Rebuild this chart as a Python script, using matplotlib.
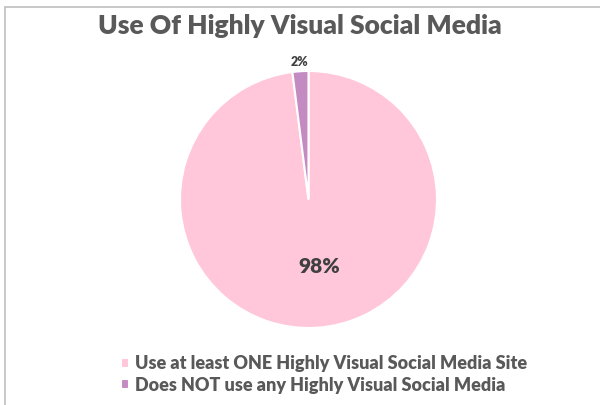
import numpy as np
import matplotlib.pyplot as plt
from matplotlib.patches import Rectangle

# Survey share of highly visual social media use
labels = ["Use at least ONE Highly Visual Social Media Site",
          "Does NOT use any Highly Visual Social Media"]
shares = [98, 2]
colors = ["#FFC7D9", "#C48BC3"]

plt.rcParams["font.family"] = ["Lato", "DejaVu Sans"]

fig = plt.figure(figsize=(6, 4.05), dpi=100)

# chart frame
fig.patches.append(Rectangle((5 / 600, -0.1), 1.2, 1 - 7 / 405 + 0.1,
                             transform=fig.transFigure, fill=False,
                             edgecolor="#BFBFBF", linewidth=1.2))

ax = fig.add_axes([180 / 600, 77 / 405, 257 / 600, 257 / 405])
wedges, texts, autotexts = ax.pie(
    shares, colors=colors, startangle=90, counterclock=False,
    autopct=lambda p: f"{p:.0f}%", pctdistance=0.52,
    wedgeprops=dict(edgecolor="white", linewidth=1.5),
    textprops=dict(color="#404040", fontweight="heavy"))
ax.set_xlim(-1, 1)
ax.set_ylim(-1, 1)
ax.set_aspect("equal")

autotexts[0].set_fontsize(15)
autotexts[0].set_position((0.08, -0.52))
# small slice label sits just outside the rim
theta = np.deg2rad(90 + shares[1] / 2 * 3.6)
autotexts[1].set_position((1.07 * np.cos(theta), 1.07 * np.sin(theta)))
autotexts[1].set_fontsize(9)

fig.text(0.5, 0.935, "Use Of Highly Visual Social Media", ha="center", va="center",
         fontsize=19, fontweight="heavy", color="#595959")

leg = fig.legend(wedges, labels, loc="upper left", bbox_to_anchor=(105 / 600, 1 - 339 / 405),
                 frameon=False, handlelength=0.45, handleheight=0.45, handletextpad=0.3,
                 labelspacing=0.25, prop=dict(size=13, weight="heavy"))
for t in leg.get_texts():
    t.set_color("#595959")

fig.savefig("out.png", dpi=100)
